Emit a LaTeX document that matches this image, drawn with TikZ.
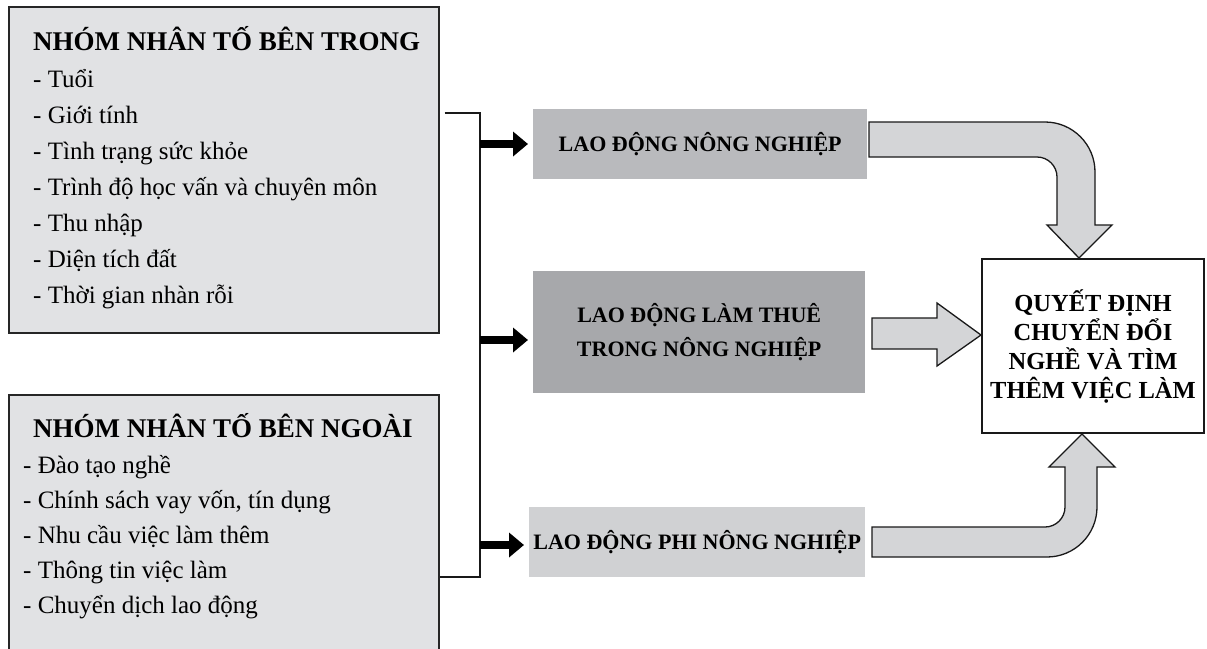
\documentclass[tikz,border=0pt]{standalone}
\usepackage{fontspec}
\setmainfont{Liberation Serif}
\usetikzlibrary{arrows.meta}

\definecolor{factorfill}{HTML}{E1E2E4}
\definecolor{nongfill}{HTML}{B9BABD}
\definecolor{thuefill}{HTML}{A7A8AB}
\definecolor{phifill}{HTML}{D0D1D3}
\definecolor{blockfill}{HTML}{D4D5D7}

\begin{document}
\begin{tikzpicture}[x=1pt, y=-1pt,
		factorbox/.style={draw=black!85, line width=1.5pt, fill=factorfill, anchor=north west, inner sep=0pt},
		grouptitle/.style={anchor=base west, inner sep=0pt, font=\fontsize{27}{30}\selectfont\bfseries},
		itemtext/.style={anchor=base west, inner sep=0pt, font=\fontsize{25}{27}\selectfont},
		laborbox/.style={anchor=north west, inner sep=0pt, align=center, font=\fontsize{22}{34}\selectfont\bfseries},
		fatarrow/.style={line width=8pt, -{Triangle[length=15pt, width=24pt]}, shorten >=5pt},
		blockarrow/.style={draw=black!90, line width=1.3pt, fill=blockfill, line join=miter}]
	\useasboundingbox (0,0) rectangle (1207,648);
	
	% Left: the two groups of factors
	\node[factorbox, minimum width=430pt, minimum height=326pt] (inner) at (8,6) {};
	\node[grouptitle] (innertitle) at (33,50) {NHÓM NHÂN TỐ BÊN TRONG};
	\foreach \txt [count=\i] in {Tuổi, Giới tính, Tình trạng sức khỏe, Trình độ học vấn và chuyên môn, Thu nhập, Diện tích đất, Thời gian nhàn rỗi}
		\node[itemtext] (inneritem\i) at (33,51+36*\i) {- \txt};
	
	\node[factorbox, minimum width=430pt, minimum height=262pt] (outer) at (8,394) {};
	\node[grouptitle] (outertitle) at (33,437) {NHÓM NHÂN TỐ BÊN NGOÀI};
	\foreach \txt [count=\i] in {Đào tạo nghề, {Chính sách vay vốn, tín dụng}, Nhu cầu việc làm thêm, Thông tin việc làm, Chuyển dịch lao động}
		\node[itemtext] (outeritem\i) at (23,438+35*\i) {- \txt};
	
	% Middle: the three kinds of labour
	\node[laborbox, fill=nongfill, minimum width=334pt, minimum height=70pt] (nong) at (533,109) {LAO ĐỘNG NÔNG NGHIỆP};
	\node[laborbox, fill=thuefill, minimum width=332pt, minimum height=122pt] (thue) at (533,271) {LAO ĐỘNG LÀM THUÊ\\TRONG NÔNG NGHIỆP};
	\node[laborbox, fill=phifill, minimum width=336pt, minimum height=70pt] (phi) at (529,507) {LAO ĐỘNG PHI NÔNG NGHIỆP};
	
	% Right: the decision
	\node[draw=black!90, line width=2pt, fill=white, anchor=north west, inner sep=0pt, minimum width=222pt, minimum height=174pt, align=center, font=\fontsize{24.5}{29}\selectfont\bfseries] (decision) at (981,258) {QUYẾT ĐỊNH\\CHUYỂN ĐỔI\\NGHỀ VÀ TÌM\\THÊM VIỆC LÀM};
	
	% Bracket joining the two groups
	\coordinate (brtop) at (480,113);
	\coordinate (brbot) at (480,577);
	\draw[line width=2pt, black!90] ([xshift=5pt]inner.east |- brtop) -- (brtop) -- (brbot) -- (outer.east |- brbot);
	
	% Black arrows to the kinds of labour
	\coordinate (fork1) at (480,144);
	\coordinate (fork2) at (480,340);
	\coordinate (fork3) at (480,545);
	\draw[fatarrow] (fork1) -- (fork1 -| nong.west);
	\draw[fatarrow] (fork2) -- (fork2 -| thue.west);
	\draw[fatarrow] (fork3) -- (fork3 -| phi.west);
	
	% Block arrows into the decision
	\draw[blockarrow] (869,122) -- (1045,122) .. controls (1072.6,122) and (1095,144.4) .. (1095,172) -- (1095,225) -- (1112,225) -- (decision.north -| 1079,0) -- (1047,225) -- (1057,225) -- (1057,177) .. controls (1057,166) and (1048,157) .. (1037,157) -- (869,157) -- cycle;
	\draw[blockarrow] (872,318) -- (937,318) -- (937,303) -- (decision.west |- 0,335) -- (937,366) -- (937,349) -- (872,349) -- cycle;
	\draw[blockarrow] (872,557) -- (1047,557) .. controls (1074.6,557) and (1097,534.6) .. (1097,507) -- (1097,467) -- (1115,467) -- (decision.south -| 1082,0) -- (1049,467) -- (1065,467) -- (1065,507) .. controls (1065,518) and (1056,527) .. (1045,527) -- (872,527) -- cycle;
\end{tikzpicture}
\end{document}
